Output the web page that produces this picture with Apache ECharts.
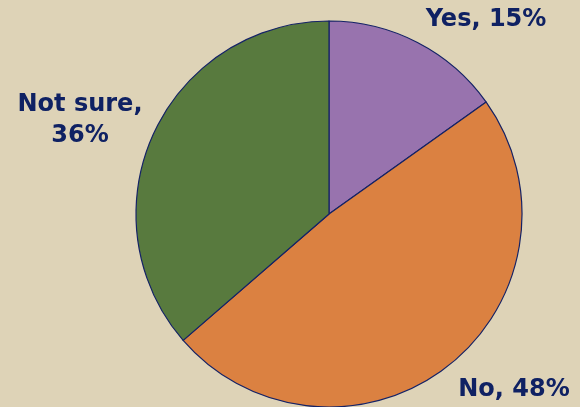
<!DOCTYPE html>
<html>
<head>
<meta charset="utf-8">
<script src="https://cdn.jsdelivr.net/npm/echarts@6/dist/echarts.min.js"></script>
<style>
  html, body { margin: 0; padding: 0; background: #DED3B7; }
  #chart { width: 580px; height: 407px; }
</style>
</head>
<body>
<div id="chart"></div>
<script>
// Survey answers and their shares (percent)
const categories = ['Yes', 'No', 'Not sure'];
const shares = [15, 48, 36];
const sliceColors = ['#9873AE', '#DB8141', '#587A3E'];

// Where each slice's label sits, and whether it wraps onto two lines
const labelSpots = [
  { x: 486, y: 20, wrap: false },
  { x: 514, y: 390, wrap: false },
  { x: 80, y: 120, wrap: true }
];

const chart = echarts.init(document.getElementById('chart'), null, { renderer: 'canvas' });

chart.setOption({
  backgroundColor: '#DED3B7',
  animation: false,
  series: [{
    type: 'pie',
    center: [329, 214],
    radius: 193,
    startAngle: 90,
    clockwise: true,
    avoidLabelOverlap: false,
    data: categories.map((name, i) => ({
      name: name,
      value: shares[i],
      itemStyle: { color: sliceColors[i] }
    })),
    itemStyle: { borderColor: '#142266', borderWidth: 1.2 },
    label: {
      show: true,
      position: 'outside',
      fontFamily: 'DejaVu Sans',
      fontWeight: 'bold',
      fontSize: 24,
      lineHeight: 31,
      color: '#0F2163',
      align: 'center',
      formatter: p => p.name + (labelSpots[p.dataIndex].wrap ? ',\n' : ', ') + p.value + '%'
    },
    labelLine: { show: false },
    labelLayout: p => ({
      x: labelSpots[p.dataIndex].x,
      y: labelSpots[p.dataIndex].y,
      align: 'center',
      verticalAlign: 'middle'
    })
  }]
});
</script>
</body>
</html>
